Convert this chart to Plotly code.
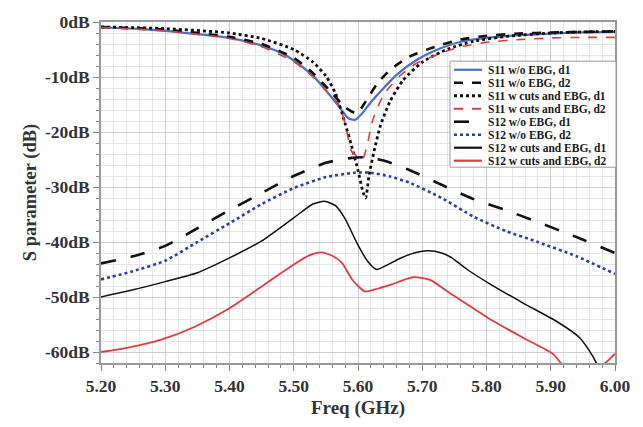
import plotly.graph_objects as go

# ---------------- data ----------------
names = ["S11 w/o EBG, d1", "S11 w/o EBG, d2", "S11 w cuts and EBG, d1", "S11 w cuts and EBG, d2",
         "S12 w/o EBG, d1", "S12 w/o EBG, d2", "S12 w cuts and EBG, d1", "S12 w cuts and EBG, d2"]

s11_wo_d1_f = [5.20, 5.25, 5.30, 5.35, 5.40, 5.45, 5.48, 5.50, 5.53, 5.55, 5.57, 5.585, 5.595, 5.605,
               5.62, 5.64, 5.66, 5.69, 5.72, 5.76, 5.80, 5.85, 5.90, 5.95, 6.00]
s11_wo_d1_v = [-1.0, -1.2, -1.6, -2.2, -2.9, -4.3, -5.6, -7.0, -9.8, -12.4, -15.3, -17.5, -17.8, -16.8,
               -14.6, -12.0, -9.6, -7.0, -5.2, -3.6, -2.9, -2.4, -2.1, -1.9, -1.8]

s11_wo_d2_f = [5.20, 5.30, 5.40, 5.45, 5.50, 5.53, 5.56, 5.58, 5.598, 5.61, 5.63, 5.65, 5.68, 5.72,
               5.76, 5.80, 5.85, 5.90, 5.95, 6.00]
s11_wo_d2_v = [-0.9, -1.4, -2.7, -4.0, -6.5, -9.3, -13.0, -15.5, -16.6, -14.8, -11.2, -8.7, -6.3, -4.5,
               -3.2, -2.5, -2.1, -1.9, -1.8, -1.7]

s11_cut_d1_f = [5.20, 5.30, 5.40, 5.45, 5.50, 5.53, 5.55, 5.565, 5.58, 5.59, 5.60, 5.608, 5.612, 5.617,
                5.625, 5.635, 5.65, 5.67, 5.70, 5.74, 5.78, 5.84, 5.90, 5.95, 6.00]
s11_cut_d1_v = [-0.9, -1.2, -2.0, -3.0, -5.0, -7.3, -9.8, -13.0, -18.5, -22.5, -27.0, -31.0, -32.0, -28.0,
                -23.5, -18.8, -14.4, -10.6, -7.3, -4.9, -3.5, -2.5, -2.0, -1.8, -1.7]

s11_cut_d2_f = [5.20, 5.30, 5.40, 5.45, 5.50, 5.53, 5.55, 5.57, 5.58, 5.59, 5.60, 5.607, 5.614, 5.623,
                5.64, 5.665, 5.69, 5.73, 5.76, 5.80, 5.85, 5.90, 5.95, 6.00]
s11_cut_d2_v = [-1.0, -1.6, -3.0, -4.5, -7.2, -10.0, -12.5, -15.0, -18.5, -23.5, -24.5, -25.0, -22.5, -17.8,
                -13.2, -9.8, -7.6, -5.6, -4.5, -3.7, -3.2, -2.9, -2.8, -2.8]

s12_wo_d1_f = [5.20, 5.25, 5.30, 5.35, 5.40, 5.45, 5.50, 5.55, 5.585, 5.61, 5.64, 5.68, 5.73, 5.78,
               5.83, 5.88, 5.94, 6.00]
s12_wo_d1_v = [-43.9, -42.6, -40.7, -37.5, -34.2, -31.1, -28.0, -25.6, -24.8, -24.6, -25.2, -26.9, -29.6, -32.2,
               -34.2, -36.4, -39.1, -42.0]

s12_wo_d2_f = [5.20, 5.25, 5.30, 5.35, 5.40, 5.45, 5.50, 5.55, 5.595, 5.62, 5.65, 5.68, 5.73, 5.78,
               5.83, 5.88, 5.94, 6.00]
s12_wo_d2_v = [-46.8, -45.3, -43.4, -40.0, -36.6, -33.1, -30.2, -28.2, -27.4, -27.4, -28.1, -29.2, -32.0, -35.4,
               -38.0, -40.0, -42.6, -45.8]

s12_cut_d1_f = [5.20, 5.25, 5.30, 5.35, 5.40, 5.45, 5.50, 5.53, 5.548, 5.565, 5.58, 5.598, 5.615, 5.629,
                5.645, 5.665, 5.69, 5.71, 5.73, 5.745, 5.77, 5.805, 5.857, 5.91, 5.945, 5.966, 5.975]
s12_cut_d1_v = [-50.0, -48.7, -47.2, -45.6, -42.9, -39.8, -35.6, -33.1, -32.6, -33.4, -35.8, -40.1, -43.5, -45.0,
                -44.2, -43.0, -41.9, -41.6, -42.0, -42.8, -45.0, -47.6, -51.1, -54.5, -57.4, -60.9, -63.0]

s12_cut_d2_f = [5.20, 5.242, 5.295, 5.346, 5.398, 5.45, 5.50, 5.525, 5.543, 5.56, 5.575, 5.592, 5.611, 5.63,
                5.65, 5.686, 5.712, 5.743, 5.805, 5.857, 5.903, 5.92, 5.94, 5.965, 5.985, 6.00]
s12_cut_d2_v = [-60.0, -59.2, -57.7, -55.4, -52.2, -48.1, -44.1, -42.4, -41.9, -42.5, -43.8, -47.0, -49.0, -48.5,
                -47.8, -46.4, -46.9, -49.3, -54.0, -57.4, -60.3, -62.5, -63.5, -63.5, -62.0, -60.3]

x_ticks = [5.20, 5.30, 5.40, 5.50, 5.60, 5.70, 5.80, 5.90, 6.00]
x_tick_text = ["5.20", "5.30", "5.40", "5.50", "5.60", "5.70", "5.80", "5.90", "6.00"]
y_ticks = [0, -10, -20, -30, -40, -50, -60]
y_tick_text = ["0dB", "-10dB", "-20dB", "-30dB", "-40dB", "-50dB", "-60dB"]

# ---------------- styles ----------------
series = [
    (s11_wo_d1_f, s11_wo_d1_v, "#4a6fc4", "solid", 2.2),
    (s11_wo_d2_f, s11_wo_d2_v, "#111111", "dash", 2.6),
    (s11_cut_d1_f, s11_cut_d1_v, "#111111", "dot", 2.8),
    (s11_cut_d2_f, s11_cut_d2_v, "#e23b3b", "dash", 1.6),
    (s12_wo_d1_f, s12_wo_d1_v, "#111111", "longdash", 2.6),
    (s12_wo_d2_f, s12_wo_d2_v, "#2b3fa8", "dot", 2.6),
    (s12_cut_d1_f, s12_cut_d1_v, "#111111", "solid", 1.5),
    (s12_cut_d2_f, s12_cut_d2_v, "#e23b3b", "solid", 1.8),
]

fig = go.Figure()
for (fx, fy, col, dash, w), nm in zip(series, names):
    fig.add_trace(go.Scatter(x=fx, y=fy, mode="lines", name=nm, showlegend=False,
                             line=dict(color=col, dash=dash, width=w, shape="spline", smoothing=0.6)))

W, H = 643, 427
ml, mr, mt, mb = 101, 28, 16, 54
pw, ph = W - ml - mr, H - mt - mb

def px2paper(px, py):
    return (px - ml) / pw, (H - mb - py) / ph

# manual compact legend (layout decoration)
shapes = []
annotations = []
bx0, by0 = px2paper(450, 57)
bx1, by1 = px2paper(616, 168)
shapes.append(dict(type="rect", xref="paper", yref="paper", x0=bx0, y0=by1, x1=bx1, y1=by0,
                   line=dict(color="#9a9a9a", width=1), fillcolor="white", layer="above"))
for i, ((fx, fy, col, dash, w), nm) in enumerate(zip(series, names)):
    ypx = 66 + i * 13.6
    lx0, ly = px2paper(454, ypx)
    lx1, _ = px2paper(482, ypx)
    shapes.append(dict(type="line", xref="paper", yref="paper", x0=lx0, x1=lx1, y0=ly, y1=ly,
                       line=dict(color=col, dash=dash, width=max(w, 2.2)), layer="above"))
    tx, _ = px2paper(486, ypx)
    annotations.append(dict(xref="paper", yref="paper", x=tx, y=ly, text="<b>" + nm + "</b>", showarrow=False,
                            xanchor="left", yanchor="middle",
                            font=dict(family="Liberation Serif", size=11.5, color="#1a1a1a")))

serif = "Liberation Serif"
fig.update_layout(
    width=W, height=H, margin=dict(l=ml, r=mr, t=mt, b=mb),
    paper_bgcolor="white", plot_bgcolor="white",
    shapes=shapes, annotations=annotations,
    font=dict(family=serif, color="#222"),
)
fig.update_xaxes(
    range=[5.20, 6.00], tickvals=x_ticks, ticktext=x_tick_text,
    tickfont=dict(family=serif, size=17.5, color="#333", weight="bold"),
    title=dict(text="<b>Freq (GHz)</b>", font=dict(family=serif, size=19, color="#333"), standoff=6),
    showgrid=True, gridcolor="#cfcfcf", gridwidth=1,
    minor=dict(dtick=0.02, showgrid=True, gridcolor="#e6e6e6", ticks="outside", ticklen=3, tickcolor="#888"),
    ticks="outside", ticklen=6, tickcolor="#888",
    showline=True, linecolor="#999", linewidth=1.5, mirror=True, zeroline=False,
)
fig.update_yaxes(
    range=[-62, 0], tickvals=y_ticks, ticktext=y_tick_text,
    tickfont=dict(family=serif, size=17.5, color="#333", weight="bold"),
    title=dict(text="<b>S parameter (dB)</b>", font=dict(family=serif, size=18.5, color="#333"), standoff=4),
    showgrid=True, gridcolor="#cfcfcf", gridwidth=1,
    minor=dict(dtick=2, showgrid=True, gridcolor="#e6e6e6", ticks="outside", ticklen=3, tickcolor="#888"),
    ticks="outside", ticklen=6, tickcolor="#888",
    showline=True, linecolor="#999", linewidth=1.5, mirror=True, zeroline=False,
)

fig.write_html("out.html")
